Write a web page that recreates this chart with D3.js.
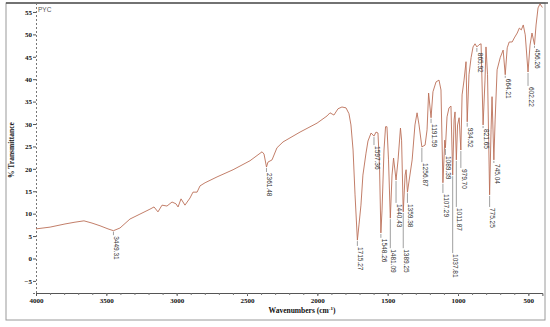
<!DOCTYPE html>
<html>
<head>
<meta charset="utf-8">
<script src="https://cdn.jsdelivr.net/npm/d3@7"></script>
<style>
  html, body { margin: 0; padding: 0; background: #fff; }
  svg { display: block; }
</style>
</head>
<body>
<svg id="root"></svg>
<script>
// spectrum (cm-1, %T)
const wavenumbers = [
  4000, 3900, 3794, 3723, 3659, 3602, 3545, 3488, 3449.31, 3403, 3332, 3261, 3190, 3161, 3133,
  3104, 3069, 3033, 3005, 2990, 2969, 2941, 2905, 2884, 2855, 2834, 2798, 2713, 2599, 2479,
  2393, 2379, 2361.48, 2351, 2322, 2287, 2244, 2123, 2002, 1931, 1910, 1882, 1853, 1825, 1796,
  1775, 1761, 1746, 1732, 1715.27, 1704, 1690, 1676, 1654, 1640, 1618, 1597.36, 1583, 1569, 1558,
  1548.26, 1540, 1526, 1515, 1505, 1494, 1481.09, 1469, 1458, 1440.43, 1426, 1409, 1401, 1389.25, 1376,
  1369, 1359.38, 1347, 1326, 1306, 1291, 1277, 1256.87, 1234, 1220, 1209, 1191.59, 1178, 1156, 1135,
  1121, 1107.29, 1094, 1089.39, 1078, 1064, 1050, 1037.81, 1028, 1021, 1011.87, 1003, 992, 979.7, 971,
  957, 943, 934.52, 922, 907, 893, 879, 865.92, 850, 836, 821.65, 808, 801, 790, 775.25,
  765, 758, 745.04, 736, 722, 700, 679, 664.21, 650, 636, 615, 600, 579, 564, 550,
  536, 522, 502.22, 488, 474, 456.26, 445, 431, 417, 400
];
const transmittance = [
  6.6, 7.0, 7.7, 8.1, 8.4, 7.9, 7.3, 6.6, 6.2, 6.8, 8.8, 9.9, 11.0, 11.5, 10.4,
  11.9, 11.7, 12.6, 12.2, 11.5, 13.3, 11.9, 13.5, 14.8, 14.8, 16.2, 16.9, 18.2, 19.8, 21.8,
  23.8, 23.3, 20.4, 21.5, 22.0, 24.7, 26.0, 28.2, 30.2, 31.8, 32.5, 32.0, 33.4, 33.8, 33.6,
  32.3, 29.8, 24.2, 14.2, 4.1, 7.5, 11.9, 18.6, 23.5, 26.2, 28.0, 27.3, 28.2, 28.0, 20.8,
  5.7, 10.8, 24.2, 29.4, 29.4, 22.0, 9.0, 18.6, 22.4, 17.5, 22.0, 29.1, 26.4, 10.4, 18.6,
  19.8, 14.8, 17.5, 22.0, 29.8, 32.5, 29.8, 24.9, 25.3, 28.7, 36.9, 31.4, 37.2, 39.4, 39.8,
  37.6, 16.9, 26.4, 24.7, 31.6, 33.6, 34.0, 18.6, 30.9, 32.7, 22.0, 29.8, 31.4, 24.2, 36.5,
  39.8, 43.9, 30.5, 41.0, 44.8, 47.2, 47.9, 47.2, 47.7, 47.9, 29.8, 39.8, 47.2, 41.0, 14.2,
  28.7, 36.1, 22.0, 30.9, 42.1, 44.8, 46.5, 41.0, 47.0, 48.3, 48.3, 49.2, 50.3, 51.4, 51.0,
  52.1, 49.9, 41.6, 47.6, 50.3, 47.7, 52.1, 55.9, 56.8, 56.0
];

// peak annotations: text, band position on the axis, %T where the label text begins
const peakLabels = [
  "3449.31", "2361.48", "1715.27", "1597.36", "1548.26", "1481.09", "1440.43", "1389.25",
  "1359.38", "1256.87", "1191.59", "1107.29", "1089.39", "1037.81", "1011.87", "979.70",
  "934.52", "865.92", "821.65", "775.25", "745.04", "664.21", "602.22", "456.26"
];
const peakPositions = [
  3449.31, 2361.48, 1715.27, 1597.36, 1548.26, 1481.09, 1440.43, 1389.25,
  1359.38, 1256.87, 1191.59, 1107.29, 1089.39, 1037.81, 1011.87, 979.7,
  934.52, 865.92, 821.65, 775.25, 745.04, 664.21, 502.22, 456.26
];
const labelStarts = [
  5.2, 19.3, 2.8, 25.3, 4.6, 2.3, 12.4, 2.3,
  12.4, 21.5, 30.2, 14.6, 23.1, 1.2, 11.5, 20.2,
  29.4, 46.1, 29.1, 11.5, 21.3, 40.3, 38.5, 47.0
];

const xTicks = [4000, 3500, 3000, 2500, 2000, 1500, 1000, 500];
const yTicks = [-5, 0, 5, 10, 15, 20, 25, 30, 35, 40, 45, 50, 55];

const width = 550;
const height = 327;
const plot = { left: 36, right: 542.4, top: 3, bottom: 293 };
const serif = "'Liberation Serif', 'Times New Roman', serif";
const sans = "'Liberation Sans', Arial, sans-serif";

const svg = d3.select("#root").attr("width", width).attr("height", height);

const x = d3.scaleLinear().domain([4000, 400]).range([plot.left, plot.right]);
const y = d3.scaleLinear().domain([-7.7, 57]).range([plot.bottom, plot.top]);

// outer frame
svg.append("rect")
  .attr("x", 6).attr("y", 3)
  .attr("width", 539).attr("height", 317)
  .attr("fill", "none")
  .attr("stroke", "#9a9a9a")
  .attr("stroke-width", 1);
svg.append("line")
  .attr("x1", 6).attr("x2", 548)
  .attr("y1", 3).attr("y2", 3)
  .attr("stroke", "#555")
  .attr("stroke-width", 1.6);

svg.append("defs").append("clipPath").attr("id", "clip")
  .append("rect")
  .attr("x", plot.left).attr("y", plot.top)
  .attr("width", plot.right - plot.left + 2)
  .attr("height", plot.bottom - plot.top);

// x axis
const xAxis = svg.append("g")
  .attr("transform", `translate(0, ${plot.bottom})`)
  .call(d3.axisBottom(x).tickValues(xTicks).tickSize(3).tickFormat(d3.format("d")));
xAxis.select(".domain").attr("stroke", "#555");
xAxis.selectAll(".tick line").attr("stroke", "#555");
xAxis.selectAll(".tick text")
  .attr("font-family", serif)
  .attr("font-weight", "bold")
  .attr("font-size", 7)
  .attr("fill", "#111")
  .attr("dy", "0.6em");

svg.append("g")
  .attr("transform", `translate(0, ${plot.bottom})`)
  .call(d3.axisBottom(x).tickValues(d3.range(3900, 400, -100)).tickSize(2).tickFormat(""))
  .call((g) => g.select(".domain").remove())
  .selectAll(".tick line").attr("stroke", "#777");

// y axis, dotted spine
const yAxis = svg.append("g")
  .attr("transform", `translate(${plot.left}, 0)`)
  .call(d3.axisLeft(y).tickValues(yTicks).tickSize(3));
yAxis.select(".domain")
  .attr("stroke", "#777")
  .attr("stroke-dasharray", "2,2");
yAxis.selectAll(".tick line").attr("stroke", "#555");
yAxis.selectAll(".tick text")
  .attr("font-family", serif)
  .attr("font-weight", "bold")
  .attr("font-size", 7)
  .attr("fill", "#111")
  .attr("x", -4);

// axis titles
const xTitle = svg.append("text")
  .attr("x", 302).attr("y", 312.5)
  .attr("text-anchor", "middle")
  .attr("font-family", serif)
  .attr("font-weight", "bold")
  .attr("font-size", 7.5)
  .attr("fill", "#111");
xTitle.append("tspan").text("Wavenumbers (cm");
xTitle.append("tspan").attr("dy", -3).attr("font-size", 5).text("-1");
xTitle.append("tspan").attr("dy", 3).text(")");

svg.append("text")
  .attr("transform", "translate(14, 150) rotate(-90)")
  .attr("text-anchor", "middle")
  .attr("font-family", serif)
  .attr("font-weight", "bold")
  .attr("font-size", 7.5)
  .attr("fill", "#111")
  .text("% Transmittance");

svg.append("text")
  .attr("x", plot.left + 2).attr("y", 12)
  .attr("font-family", sans)
  .attr("font-size", 6.5)
  .attr("fill", "#555")
  .text("PYC");

// spectrum
const spectrum = wavenumbers.map((w, i) => ({ w, t: transmittance[i] }));
svg.append("path")
  .datum(spectrum)
  .attr("clip-path", "url(#clip)")
  .attr("fill", "none")
  .attr("stroke", "#bb6f58")
  .attr("stroke-width", 0.9)
  .attr("stroke-linejoin", "round")
  .attr("d", d3.line().x((d) => x(d.w)).y((d) => y(d.t)));

// peak markers
const peaks = peakLabels.map((label, i) => {
  const w = peakPositions[i];
  const j = d3.leastIndex(wavenumbers, (a, b) => Math.abs(a - w) - Math.abs(b - w));
  return { label, w, t: transmittance[j], start: labelStarts[i] };
});

const marks = svg.append("g").selectAll("g").data(peaks).join("g");
marks.append("line")
  .attr("x1", (d) => x(d.w)).attr("x2", (d) => x(d.w))
  .attr("y1", (d) => y(d.t) + 1)
  .attr("y2", (d) => y(d.start))
  .attr("stroke", "#777")
  .attr("stroke-width", 0.7);
marks.append("text")
  .attr("transform", (d) => `translate(${x(d.w) + 3}, ${y(d.start) + 1}) rotate(90)`)
  .attr("dy", "0.35em")
  .attr("font-family", sans)
  .attr("font-size", 6.5)
  .attr("fill", "#333")
  .text((d) => d.label);
</script>
</body>
</html>
